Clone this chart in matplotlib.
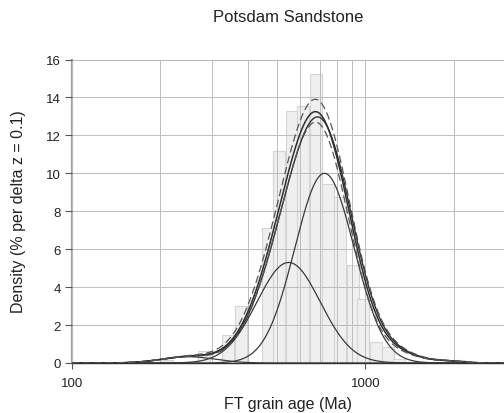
import numpy as np
import matplotlib
matplotlib.use('Agg')
import matplotlib.pyplot as plt
from matplotlib.ticker import FixedLocator, NullFormatter, FixedFormatter

plt.rcParams['font.family'] = ['Liberation Sans', 'DejaVu Sans']

# ---- data ----
title = "Potsdam Sandstone"
x_label = "FT grain age (Ma)"
y_label = "Density (% per delta z = 0.1)"

# histogram (bin left edges in Ma, heights)
bin_left_age = [201.5, 269, 326, 360, 444, 485, 536, 585, 648, 712, 782, 864, 937, 1037, 1137, 1243, 1990]
bin_height = [0.15, 0.63, 1.5, 3.0, 7.1, 11.2, 13.3, 13.55, 15.26, 9.42, 8.77, 5.16, 3.37, 1.09, 0.86, 0.2, 0.15]
bin_log_width = 0.0407

# fitted peaks (age Ma, log10 sigma, peak height)
peak_age = [250, 548, 726]
peak_sigma = [0.09, 0.108, 0.101]
peak_height = [0.33, 5.3, 10.0]

# minor old-age tail terms of the summed curve
tail_age = [1300, 1950]
tail_sigma = [0.08, 0.05]
tail_height = [0.4, 0.08]

# second (observed) summed curve: main peak shifted
obs_peak_age = [250, 552, 738]
obs_peak_height = [0.33, 5.2, 9.9]

# confidence band scale factors (height, width)
upper_scale = [1.04, 1.035]
lower_scale = [0.965, 0.975]

x_ticks = [100, 1000]
x_minor = [200, 300, 400, 500, 600, 700, 800, 900, 2000]
y_ticks = [0, 2, 4, 6, 8, 10, 12, 14, 16]


def gauss(lx, age, sig, h):
    return h * np.exp(-0.5 * ((lx - np.log10(age)) / sig) ** 2)


def summed(lx, ages, sigs, hts, hscale=1.0, wscale=1.0):
    tot = np.zeros_like(lx)
    for a, s, h in zip(ages, sigs, hts):
        tot += gauss(lx, a, s * wscale, h * hscale)
    for a, s, h in zip(tail_age, tail_sigma, tail_height):
        tot += gauss(lx, a, s * wscale, h * hscale)
    return tot


fig = plt.figure(figsize=(5.04, 4.14), dpi=100)
ax = fig.add_axes([0.1423, 0.1208, 0.8605, 0.733])
ax.set_xscale('log')
ax.set_xlim(100, 3000)
ax.set_ylim(0, 16)

# bars
lefts = np.array(bin_left_age, dtype=float)
widths = lefts * (10 ** bin_log_width - 1)
ax.bar(lefts, bin_height, width=widths, align='edge', color='#efefef',
       edgecolor='#d4d4d4', linewidth=0.8, zorder=1)

# grid
ax.xaxis.set_major_locator(FixedLocator(x_ticks))
ax.xaxis.set_major_formatter(FixedFormatter([str(t) for t in x_ticks]))
ax.xaxis.set_minor_locator(FixedLocator(x_minor))
ax.xaxis.set_minor_formatter(NullFormatter())
ax.yaxis.set_major_locator(FixedLocator(y_ticks))
ax.grid(True, which='both', axis='x', color='#bcbcbc', linewidth=0.7, zorder=1.5)
ax.grid(True, which='major', axis='y', color='#bcbcbc', linewidth=0.7, zorder=1.5)
ax.set_axisbelow(False)
for gl in ax.get_xgridlines() + ax.get_ygridlines():
    gl.set_zorder(1.5)

lx = np.linspace(2.0, np.log10(3000), 800)
x = 10 ** lx

# components
for a, s, h in zip(peak_age, peak_sigma, peak_height):
    ax.plot(x, gauss(lx, a, s, h), color='#3a3a3a', lw=0.9, zorder=3)

# summed fitted curve
ax.plot(x, summed(lx, peak_age, peak_sigma, peak_height), color='#2e2e2e', lw=1.1, zorder=4)
# observed summed curve
ax.plot(x, summed(lx, obs_peak_age, peak_sigma, obs_peak_height), color='#2e2e2e', lw=1.0, zorder=4)
# confidence band
ax.plot(x, summed(lx, peak_age, peak_sigma, peak_height, upper_scale[0], upper_scale[1]),
        color='#555555', lw=0.9, dashes=(6, 3), zorder=4)
ax.plot(x, summed(lx, peak_age, peak_sigma, peak_height, lower_scale[0], lower_scale[1]),
        color='#555555', lw=0.9, dashes=(6, 3), zorder=4)

# spines / ticks
ax.spines['right'].set_visible(False)
ax.spines['top'].set_color('#bcbcbc')
ax.spines['top'].set_linewidth(0.8)
ax.spines['left'].set_color('#a0a0a0')
ax.spines['left'].set_linewidth(1.6)
ax.spines['bottom'].set_color('#303030')
ax.spines['bottom'].set_linewidth(1.0)
ax.tick_params(axis='y', which='major', length=5, width=0.8, color='#555555',
               pad=3, labelsize=9.5, labelcolor='#222222')
ax.tick_params(axis='x', which='major', length=4, width=0.8, color='#555555',
               pad=6, labelsize=9.5, labelcolor='#222222')
ax.tick_params(axis='x', which='minor', length=0)

fig.text(288 / 504, 1 - 18 / 414, title, ha='center', va='center', fontsize=12, color='#222222')
fig.text(288 / 504, 1 - 405 / 414, x_label, ha='center', va='center', fontsize=11.5, color='#222222')
fig.text(19 / 504, 1 - 212 / 414, y_label, ha='center', va='center', rotation=90,
         fontsize=11.5, color='#222222')

fig.savefig('out.png', dpi=100)
